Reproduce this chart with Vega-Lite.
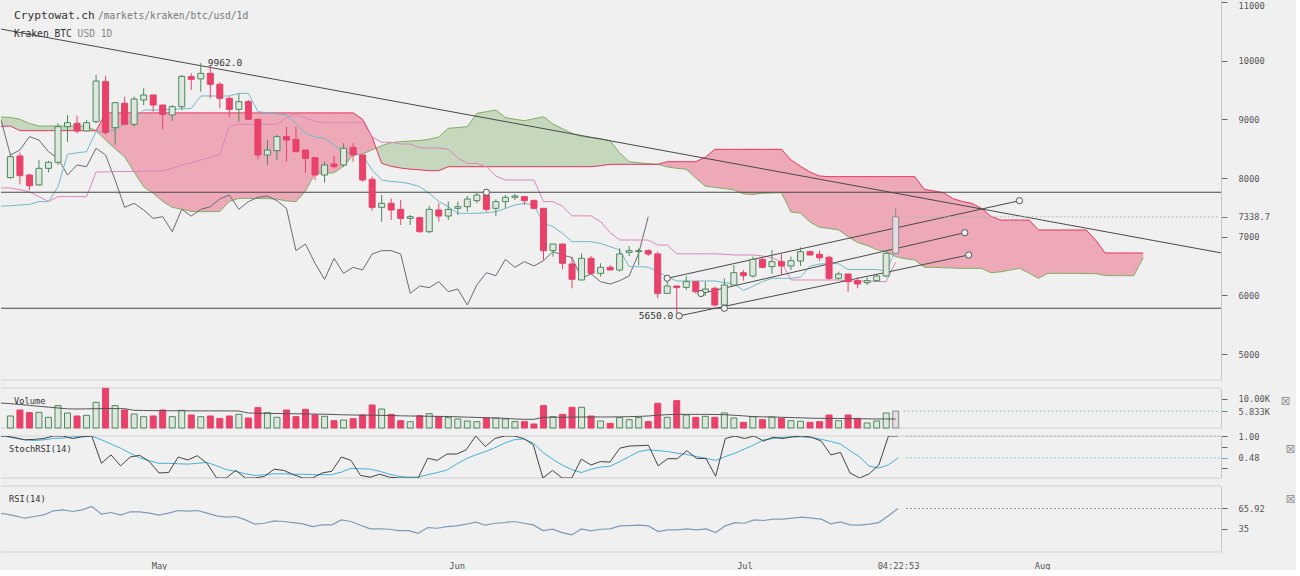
{
"$schema":"https://vega.github.io/schema/vega-lite/v6.json",
"padding":0,
"background":"#f0f0f0",
"bounds":"flush",
"spacing":8,
"config":{"view":{"stroke":null},"axis":{"labelFont":"DejaVu Sans Mono","labelFontSize":8.7,"labelColor":"#555","domainColor":"#c8c8c8","tickColor":"#666","grid":false},"text":{"font":"DejaVu Sans Mono"}},
"datasets":{
"c":[
{"d":"2018-04-14","tk":7520,"kj":7830,"k":1,"dd":0.99,"r":58.8,"vm":8600},
{"d":"2018-04-15","o":8006,"h":8400,"l":7990,"c":8364,"v":4140,"s":"up","tk":7528,"kj":7830,"k":1,"dd":0.99,"r":57.8,"vm":8400},
{"d":"2018-04-16","o":8375,"h":8432,"l":7892,"c":8040,"v":6210,"s":"down","tk":7540,"kj":7800,"k":0.96,"dd":0.95,"r":54.8,"vm":8100},
{"d":"2018-04-17","o":8051,"h":8070,"l":7795,"c":7869,"v":5290,"s":"down","tk":7550,"kj":7767,"k":0.91,"dd":0.91,"r":51.2,"vm":7800},
{"d":"2018-04-18","o":7881,"h":8307,"l":7870,"c":8165,"v":5400,"s":"up","tk":7597,"kj":7680,"k":0.92,"dd":0.89,"r":53.8,"vm":7500},
{"d":"2018-04-19","o":8165,"h":8290,"l":8096,"c":8267,"v":3680,"s":"up","tk":7597,"kj":7600,"k":0.94,"dd":0.91,"r":56.3,"vm":7200},
{"d":"2018-04-20","o":8267,"h":8932,"l":8221,"c":8875,"v":7700,"s":"up","tk":7852,"kj":7682,"k":1,"dd":0.94,"r":62.4,"vm":6900},
{"d":"2018-04-21","o":8875,"h":9074,"l":8619,"c":8943,"v":5175,"s":"up","tk":8403,"kj":7682,"k":1,"dd":0.95,"r":63.9,"vm":6600},
{"d":"2018-04-22","o":8932,"h":9062,"l":8761,"c":8801,"v":4140,"s":"down","tk":8430,"kj":7682,"k":0.94,"dd":0.98,"r":61.4,"vm":6550},
{"d":"2018-04-23","o":8801,"h":8989,"l":8790,"c":8943,"v":4370,"s":"up","tk":8449,"kj":7682,"k":0.98,"dd":0.99,"r":63.9,"vm":6600},
{"d":"2018-04-24","o":8960,"h":9756,"l":8932,"c":9653,"v":8855,"s":"up","tk":8790,"kj":8103,"k":1,"dd":1,"r":69,"vm":6650},
{"d":"2018-04-25","o":9642,"h":9744,"l":8740,"c":8778,"v":13700,"s":"down","tk":8790,"kj":8103,"k":0.35,"dd":0.91,"r":57.3,"vm":6700},
{"d":"2018-04-26","o":8858,"h":9290,"l":8562,"c":9284,"v":7700,"s":"up","tk":8818,"kj":8110,"k":0.55,"dd":0.81,"r":59.8,"vm":6700},
{"d":"2018-04-27","o":9273,"h":9386,"l":8903,"c":8915,"v":6210,"s":"down","tk":8930,"kj":8110,"k":0.29,"dd":0.71,"r":55.8,"vm":6650},
{"d":"2018-04-28","o":8915,"h":9386,"l":8875,"c":9347,"v":4830,"s":"up","tk":8988,"kj":8110,"k":0.5,"dd":0.59,"r":60.9,"vm":6100},
{"d":"2018-04-29","o":9330,"h":9528,"l":9244,"c":9415,"v":3910,"s":"up","tk":9159,"kj":8119,"k":0.54,"dd":0.48,"r":60.9,"vm":6050},
{"d":"2018-04-30","o":9415,"h":9420,"l":9131,"c":9244,"v":4140,"s":"down","tk":9159,"kj":8119,"k":0.39,"dd":0.41,"r":58.8,"vm":6000},
{"d":"2018-05-01","o":9244,"h":9250,"l":8830,"c":9085,"v":6210,"s":"down","tk":9159,"kj":8119,"k":0.12,"dd":0.35,"r":55.8,"vm":5950},
{"d":"2018-05-02","o":9074,"h":9244,"l":8977,"c":9216,"v":3910,"s":"up","tk":9170,"kj":8165,"k":0.13,"dd":0.35,"r":58.8,"vm":5950},
{"d":"2018-05-03","o":9216,"h":9756,"l":9159,"c":9733,"v":6095,"s":"up","tk":9180,"kj":8222,"k":0.5,"dd":0.34,"r":62.9,"vm":5950},
{"d":"2018-05-04","o":9727,"h":9784,"l":9500,"c":9682,"v":4485,"s":"down","tk":9187,"kj":8260,"k":0.43,"dd":0.33,"r":61.9,"vm":5900},
{"d":"2018-05-05","o":9688,"h":9962,"l":9472,"c":9784,"v":3910,"s":"up","tk":9398,"kj":8307,"k":0.53,"dd":0.35,"r":62.9,"vm":5900},
{"d":"2018-05-06","o":9784,"h":9926,"l":9358,"c":9597,"v":4140,"s":"down","tk":9398,"kj":8350,"k":0.35,"dd":0.37,"r":58.8,"vm":5900},
{"d":"2018-05-07","o":9597,"h":9631,"l":9187,"c":9358,"v":3335,"s":"down","tk":9398,"kj":8400,"k":0,"dd":0.29,"r":54.8,"vm":5900},
{"d":"2018-05-08","o":9358,"h":9387,"l":9045,"c":9170,"v":4140,"s":"down","tk":9398,"kj":8880,"k":0,"dd":0.2,"r":52.7,"vm":5880},
{"d":"2018-05-09","o":9170,"h":9443,"l":8960,"c":9301,"v":4715,"s":"up","tk":9443,"kj":8916,"k":0.18,"dd":0.16,"r":53.8,"vm":5860},
{"d":"2018-05-10","o":9301,"h":9330,"l":8989,"c":9000,"v":3450,"s":"down","tk":9443,"kj":8916,"k":0,"dd":0.1,"r":48.7,"vm":5180},
{"d":"2018-05-11","o":9000,"h":9010,"l":8318,"c":8392,"v":7015,"s":"down","tk":9131,"kj":8916,"k":0,"dd":0.06,"r":42.1,"vm":5100},
{"d":"2018-05-12","o":8392,"h":8648,"l":8222,"c":8477,"v":5290,"s":"up","tk":9110,"kj":8916,"k":0.04,"dd":0.08,"r":43.6,"vm":5050},
{"d":"2018-05-13","o":8466,"h":8733,"l":8307,"c":8705,"v":3680,"s":"up","tk":9091,"kj":8916,"k":0.21,"dd":0.1,"r":47.2,"vm":5000},
{"d":"2018-05-14","o":8705,"h":8875,"l":8278,"c":8648,"v":6210,"s":"down","tk":9080,"kj":9029,"k":0.18,"dd":0.1,"r":46.2,"vm":4950},
{"d":"2018-05-15","o":8659,"h":8875,"l":8449,"c":8449,"v":3910,"s":"down","tk":8932,"kj":9092,"k":0.08,"dd":0.09,"r":44.6,"vm":4900},
{"d":"2018-05-16","o":8477,"h":8480,"l":8080,"c":8335,"v":6440,"s":"down","tk":8761,"kj":9021,"k":0,"dd":0.09,"r":42.6,"vm":4850},
{"d":"2018-05-17","o":8347,"h":8350,"l":7966,"c":8051,"v":4485,"s":"down","tk":8700,"kj":8964,"k":0,"dd":0.08,"r":38.5,"vm":4800},
{"d":"2018-05-18","o":8051,"h":8278,"l":7920,"c":8222,"v":4025,"s":"up","tk":8676,"kj":8941,"k":0.12,"dd":0.08,"r":41.1,"vm":4750},
{"d":"2018-05-19","o":8239,"h":8381,"l":8165,"c":8193,"v":2530,"s":"down","tk":8560,"kj":8941,"k":0.16,"dd":0.08,"r":41.1,"vm":4650},
{"d":"2018-05-20","o":8222,"h":8591,"l":8193,"c":8506,"v":2760,"s":"up","tk":8449,"kj":8941,"k":0.5,"dd":0.14,"r":48.7,"vm":4550},
{"d":"2018-05-21","o":8523,"h":8591,"l":8278,"c":8392,"v":3220,"s":"down","tk":8420,"kj":8941,"k":0.42,"dd":0.23,"r":46.2,"vm":4480},
{"d":"2018-05-22","o":8392,"h":8395,"l":7937,"c":7966,"v":4485,"s":"down","tk":8392,"kj":8950,"k":0.06,"dd":0.22,"r":40.6,"vm":4450},
{"d":"2018-05-23","o":7977,"h":8023,"l":7443,"c":7500,"v":7935,"s":"down","tk":8136,"kj":8702,"k":0.02,"dd":0.21,"r":35,"vm":4400},
{"d":"2018-05-24","o":7500,"h":7710,"l":7256,"c":7568,"v":6555,"s":"up","tk":7966,"kj":8609,"k":0.09,"dd":0.16,"r":35,"vm":4350},
{"d":"2018-05-25","o":7568,"h":7653,"l":7284,"c":7455,"v":4715,"s":"down","tk":7940,"kj":8609,"k":0.02,"dd":0.09,"r":34.5,"vm":4300},
{"d":"2018-05-26","o":7466,"h":7625,"l":7199,"c":7312,"v":2530,"s":"down","tk":7930,"kj":8580,"k":0,"dd":0.04,"r":32.5,"vm":4200},
{"d":"2018-05-27","o":7312,"h":7369,"l":7199,"c":7341,"v":2185,"s":"up","tk":7900,"kj":8580,"k":0,"dd":0.02,"r":32.5,"vm":4140},
{"d":"2018-05-28","o":7324,"h":7341,"l":7068,"c":7085,"v":4255,"s":"down","tk":7852,"kj":8515,"k":0,"dd":0.02,"r":28.4,"vm":4100},
{"d":"2018-05-29","o":7085,"h":7523,"l":7057,"c":7466,"v":4945,"s":"up","tk":7739,"kj":8510,"k":0.47,"dd":0.08,"r":37,"vm":4050},
{"d":"2018-05-30","o":7455,"h":7568,"l":7256,"c":7352,"v":3910,"s":"down","tk":7600,"kj":8510,"k":0.42,"dd":0.13,"r":36,"vm":4000},
{"d":"2018-05-31","o":7352,"h":7597,"l":7284,"c":7466,"v":3565,"s":"up","tk":7511,"kj":8491,"k":0.57,"dd":0.19,"r":38.5,"vm":3950},
{"d":"2018-06-01","o":7483,"h":7597,"l":7369,"c":7511,"v":3105,"s":"up","tk":7398,"kj":8344,"k":0.57,"dd":0.33,"r":39.6,"vm":3850},
{"d":"2018-06-02","o":7511,"h":7693,"l":7426,"c":7642,"v":2415,"s":"up","tk":7398,"kj":8250,"k":0.67,"dd":0.46,"r":42.1,"vm":3750},
{"d":"2018-06-03","o":7614,"h":7767,"l":7568,"c":7710,"v":2185,"s":"up","tk":7398,"kj":8250,"k":1,"dd":0.55,"r":45.1,"vm":3650},
{"d":"2018-06-04","o":7710,"h":7750,"l":7426,"c":7466,"v":3450,"s":"down","tk":7410,"kj":8193,"k":0.75,"dd":0.63,"r":40.6,"vm":3550},
{"d":"2018-06-05","o":7483,"h":7636,"l":7352,"c":7597,"v":3450,"s":"up","tk":7426,"kj":8033,"k":0.94,"dd":0.72,"r":43.6,"vm":3450},
{"d":"2018-06-06","o":7597,"h":7710,"l":7483,"c":7671,"v":3105,"s":"up","tk":7480,"kj":7966,"k":1,"dd":0.83,"r":44.6,"vm":3350},
{"d":"2018-06-07","o":7671,"h":7727,"l":7625,"c":7693,"v":2185,"s":"up","tk":7540,"kj":7966,"k":1,"dd":0.91,"r":46.2,"vm":3100},
{"d":"2018-06-08","o":7682,"h":7693,"l":7540,"c":7614,"v":2185,"s":"down","tk":7568,"kj":7966,"k":0.94,"dd":0.93,"r":43.6,"vm":2990},
{"d":"2018-06-09","o":7614,"h":7636,"l":7466,"c":7483,"v":1380,"s":"down","tk":7540,"kj":7966,"k":0.79,"dd":0.83,"r":41.1,"vm":3000},
{"d":"2018-06-10","o":7483,"h":7483,"l":6603,"c":6762,"v":7700,"s":"down","tk":7227,"kj":7597,"k":0,"dd":0.61,"r":32.5,"vm":3680},
{"d":"2018-06-11","o":6762,"h":6875,"l":6659,"c":6875,"v":3910,"s":"up","tk":7171,"kj":7597,"k":0.18,"dd":0.45,"r":34.5,"vm":3700},
{"d":"2018-06-12","o":6875,"h":6875,"l":6443,"c":6546,"v":4715,"s":"down","tk":7057,"kj":7517,"k":0,"dd":0.31,"r":29.4,"vm":3700},
{"d":"2018-06-13","o":6534,"h":6659,"l":6120,"c":6273,"v":7130,"s":"down","tk":6915,"kj":7355,"k":0,"dd":0.2,"r":25.9,"vm":3750},
{"d":"2018-06-14","o":6262,"h":6716,"l":6262,"c":6631,"v":7130,"s":"up","tk":6915,"kj":7355,"k":0.45,"dd":0.13,"r":35,"vm":3800},
{"d":"2018-06-15","o":6631,"h":6671,"l":6364,"c":6375,"v":4140,"s":"down","tk":6915,"kj":7355,"k":0.31,"dd":0.21,"r":32,"vm":3800},
{"d":"2018-06-16","o":6375,"h":6546,"l":6318,"c":6478,"v":2415,"s":"up","tk":6886,"kj":7257,"k":0.39,"dd":0.26,"r":34.5,"vm":3800},
{"d":"2018-06-17","o":6478,"h":6517,"l":6432,"c":6432,"v":1610,"s":"down","tk":6830,"kj":7071,"k":0.38,"dd":0.28,"r":35,"vm":3800},
{"d":"2018-06-18","o":6432,"h":6801,"l":6403,"c":6705,"v":3565,"s":"up","tk":6773,"kj":6943,"k":0.71,"dd":0.39,"r":39.6,"vm":3850},
{"d":"2018-06-19","o":6733,"h":6841,"l":6670,"c":6762,"v":2875,"s":"up","tk":6489,"kj":6943,"k":0.76,"dd":0.51,"r":40.1,"vm":3900},
{"d":"2018-06-20","o":6745,"h":6801,"l":6517,"c":6762,"v":3565,"s":"up","tk":6489,"kj":6943,"k":0.77,"dd":0.63,"r":40.6,"vm":4000},
{"d":"2018-06-21","o":6762,"h":6784,"l":6671,"c":6705,"v":2185,"s":"down","tk":6480,"kj":6943,"k":0.78,"dd":0.67,"r":39.6,"vm":4140},
{"d":"2018-06-22","o":6705,"h":6745,"l":5949,"c":6034,"v":8510,"s":"down","tk":6404,"kj":6858,"k":0.29,"dd":0.65,"r":30.9,"vm":4400},
{"d":"2018-06-23","o":6034,"h":6290,"l":6034,"c":6159,"v":3680,"s":"up","tk":6313,"kj":6858,"k":0.46,"dd":0.63,"r":33.5,"vm":4600},
{"d":"2018-06-24","o":6159,"h":6159,"l":5650,"c":6131,"v":9430,"s":"down","tk":6245,"kj":6708,"k":0.46,"dd":0.59,"r":33.5,"vm":4715},
{"d":"2018-06-25","o":6136,"h":6330,"l":6091,"c":6233,"v":4485,"s":"up","tk":6245,"kj":6708,"k":0.65,"dd":0.56,"r":35,"vm":4700},
{"d":"2018-06-26","o":6233,"h":6233,"l":6034,"c":6063,"v":3680,"s":"down","tk":6245,"kj":6708,"k":0.47,"dd":0.51,"r":33.5,"vm":4700},
{"d":"2018-06-27","o":6051,"h":6233,"l":5989,"c":6108,"v":4025,"s":"up","tk":6245,"kj":6708,"k":0.46,"dd":0.47,"r":35,"vm":4700},
{"d":"2018-06-28","o":6119,"h":6148,"l":5807,"c":5835,"v":3680,"s":"down","tk":6245,"kj":6708,"k":0.04,"dd":0.42,"r":29.4,"vm":4650},
{"d":"2018-06-29","o":5835,"h":6290,"l":5807,"c":6176,"v":5175,"s":"up","tk":6217,"kj":6700,"k":0.94,"dd":0.51,"r":39.6,"vm":4600},
{"d":"2018-06-30","o":6176,"h":6517,"l":6176,"c":6386,"v":3450,"s":"up","tk":6198,"kj":6688,"k":1,"dd":0.59,"r":44.6,"vm":4400},
{"d":"2018-07-01","o":6386,"h":6432,"l":6250,"c":6335,"v":1955,"s":"down","tk":6084,"kj":6688,"k":0.94,"dd":0.69,"r":43.6,"vm":4200},
{"d":"2018-07-02","o":6330,"h":6659,"l":6307,"c":6614,"v":3910,"s":"up","tk":6155,"kj":6688,"k":1,"dd":0.79,"r":48.7,"vm":3910},
{"d":"2018-07-03","o":6614,"h":6631,"l":6460,"c":6477,"v":2875,"s":"down","tk":6233,"kj":6671,"k":0.88,"dd":0.91,"r":47.7,"vm":3850},
{"d":"2018-07-04","o":6489,"h":6773,"l":6364,"c":6574,"v":3795,"s":"up","tk":6290,"kj":6643,"k":0.97,"dd":0.94,"r":49.7,"vm":3800},
{"d":"2018-07-05","o":6574,"h":6705,"l":6347,"c":6500,"v":3335,"s":"down","tk":6290,"kj":6566,"k":0.94,"dd":0.97,"r":49.7,"vm":3700},
{"d":"2018-07-06","o":6500,"h":6659,"l":6432,"c":6591,"v":2530,"s":"up","tk":6290,"kj":6262,"k":0.98,"dd":0.98,"r":51.2,"vm":3600},
{"d":"2018-07-07","o":6585,"h":6818,"l":6500,"c":6744,"v":2300,"s":"up","tk":6312,"kj":6262,"k":1,"dd":0.98,"r":52.7,"vm":3500},
{"d":"2018-07-08","o":6744,"h":6760,"l":6680,"c":6688,"v":1955,"s":"down","tk":6497,"kj":6262,"k":0.97,"dd":0.96,"r":51.2,"vm":3400},
{"d":"2018-07-09","o":6699,"h":6761,"l":6591,"c":6642,"v":2185,"s":"down","tk":6534,"kj":6262,"k":0.88,"dd":0.92,"r":49.7,"vm":3335},
{"d":"2018-07-10","o":6648,"h":6676,"l":6261,"c":6290,"v":4485,"s":"down","tk":6540,"kj":6262,"k":0.55,"dd":0.87,"r":42.6,"vm":3300},
{"d":"2018-07-11","o":6290,"h":6403,"l":6273,"c":6364,"v":2530,"s":"up","tk":6540,"kj":6262,"k":0.61,"dd":0.81,"r":45.6,"vm":3300},
{"d":"2018-07-12","o":6364,"h":6364,"l":6063,"c":6233,"v":4485,"s":"down","tk":6440,"kj":6245,"k":0.12,"dd":0.65,"r":41.1,"vm":3250},
{"d":"2018-07-13","o":6250,"h":6307,"l":6120,"c":6193,"v":3335,"s":"down","tk":6440,"kj":6245,"k":0,"dd":0.5,"r":40.6,"vm":3200},
{"d":"2018-07-14","o":6216,"h":6307,"l":6176,"c":6250,"v":1725,"s":"up","tk":6440,"kj":6245,"k":0.1,"dd":0.28,"r":42.1,"vm":3150},
{"d":"2018-07-15","o":6250,"h":6347,"l":6233,"c":6330,"v":2415,"s":"up","tk":6440,"kj":6234,"k":0.31,"dd":0.24,"r":44.6,"vm":3120},
{"d":"2018-07-16","o":6330,"h":6744,"l":6307,"c":6716,"v":5175,"s":"up","tk":6412,"kj":6234,"k":1,"dd":0.31,"r":54.8,"vm":3110},
{"d":"2018-07-17","o":6716,"h":7483,"l":6716,"c":7338.7,"v":5833,"s":"live","tk":6773,"kj":6566,"k":1,"dd":0.48,"r":65.92,"vm":3105}
],
"lag":[
{"d":"2018-04-14","p":9000},{"d":"2018-04-15","p":8392},{"d":"2018-04-16","p":8477},{"d":"2018-04-17","p":8705},{"d":"2018-04-18","p":8648},{"d":"2018-04-19","p":8449},{"d":"2018-04-20","p":8335},{"d":"2018-04-21","p":8051},{"d":"2018-04-22","p":8222},{"d":"2018-04-23","p":8193},{"d":"2018-04-24","p":8506},{"d":"2018-04-25","p":8392},{"d":"2018-04-26","p":7966},{"d":"2018-04-27","p":7500},{"d":"2018-04-28","p":7568},{"d":"2018-04-29","p":7455},{"d":"2018-04-30","p":7312},{"d":"2018-05-01","p":7341},{"d":"2018-05-02","p":7085},{"d":"2018-05-03","p":7466},{"d":"2018-05-04","p":7352},{"d":"2018-05-05","p":7466},{"d":"2018-05-06","p":7511},{"d":"2018-05-07","p":7642},{"d":"2018-05-08","p":7710},{"d":"2018-05-09","p":7466},{"d":"2018-05-10","p":7597},{"d":"2018-05-11","p":7671},{"d":"2018-05-12","p":7693},{"d":"2018-05-13","p":7614},{"d":"2018-05-14","p":7483},{"d":"2018-05-15","p":6762},{"d":"2018-05-16","p":6875},{"d":"2018-05-17","p":6546},{"d":"2018-05-18","p":6273},{"d":"2018-05-19","p":6631},{"d":"2018-05-20","p":6375},{"d":"2018-05-21","p":6478},{"d":"2018-05-22","p":6432},{"d":"2018-05-23","p":6705},{"d":"2018-05-24","p":6762},{"d":"2018-05-25","p":6762},{"d":"2018-05-26","p":6705},{"d":"2018-05-27","p":6034},{"d":"2018-05-28","p":6159},{"d":"2018-05-29","p":6131},{"d":"2018-05-30","p":6233},{"d":"2018-05-31","p":6063},{"d":"2018-06-01","p":6108},{"d":"2018-06-02","p":5835},{"d":"2018-06-03","p":6176},{"d":"2018-06-04","p":6386},{"d":"2018-06-05","p":6335},{"d":"2018-06-06","p":6614},{"d":"2018-06-07","p":6477},{"d":"2018-06-08","p":6574},{"d":"2018-06-09","p":6500},{"d":"2018-06-10","p":6591},{"d":"2018-06-11","p":6744},{"d":"2018-06-12","p":6688},{"d":"2018-06-13","p":6642},{"d":"2018-06-14","p":6290},{"d":"2018-06-15","p":6364},{"d":"2018-06-16","p":6233},{"d":"2018-06-17","p":6193},{"d":"2018-06-18","p":6250},{"d":"2018-06-19","p":6330},{"d":"2018-06-20","p":6716},{"d":"2018-06-21","p":7338.7}
],
"cl":[
{"d":"2018-04-14","a":9040,"b":8880,"s":"g1","k":"g"},{"d":"2018-04-15","a":9034,"b":8886,"s":"g1","k":"g"},{"d":"2018-04-16","a":9000,"b":8807,"s":"g1","k":"g"},{"d":"2018-04-17","a":8930,"b":8807,"s":"g1","k":"g"},{"d":"2018-04-18","a":8886,"b":8807,"s":"g1","k":"g"},{"d":"2018-04-19","a":8886,"b":8807,"s":"g1","k":"g"},{"d":"2018-04-20","a":8886,"b":8807,"s":"g1","k":"g"},{"d":"2018-04-21","a":8886,"b":8807,"s":"g1","k":"g"},{"d":"2018-04-22","a":8886,"b":8807,"s":"g1","k":"g"},{"d":"2018-04-23","a":8886,"b":8807,"s":"g1","k":"g"},{"d":"2018-04-24","a":8805,"b":8805,"s":"g1","k":"g"},
{"d":"2018-04-24","a":8805,"b":8805,"s":"r1","k":"r"},{"d":"2018-04-25","a":8647,"b":9110,"s":"r1","k":"r"},{"d":"2018-04-26","a":8500,"b":9110,"s":"r1","k":"r"},{"d":"2018-04-27","a":8363,"b":9110,"s":"r1","k":"r"},{"d":"2018-04-28","a":8100,"b":9110,"s":"r1","k":"r"},{"d":"2018-04-29","a":7850,"b":9110,"s":"r1","k":"r"},{"d":"2018-04-30","a":7738,"b":9110,"s":"r1","k":"r"},{"d":"2018-05-01","a":7600,"b":9110,"s":"r1","k":"r"},{"d":"2018-05-02","a":7500,"b":9110,"s":"r1","k":"r"},{"d":"2018-05-03","a":7470,"b":9110,"s":"r1","k":"r"},{"d":"2018-05-04","a":7430,"b":9110,"s":"r1","k":"r"},{"d":"2018-05-05","a":7426,"b":9110,"s":"r1","k":"r"},{"d":"2018-05-06","a":7426,"b":9110,"s":"r1","k":"r"},{"d":"2018-05-07","a":7430,"b":9110,"s":"r1","k":"r"},{"d":"2018-05-08","a":7600,"b":9110,"s":"r1","k":"r"},{"d":"2018-05-09","a":7653,"b":9110,"s":"r1","k":"r"},{"d":"2018-05-10","a":7653,"b":9110,"s":"r1","k":"r"},{"d":"2018-05-11","a":7650,"b":9110,"s":"r1","k":"r"},{"d":"2018-05-12","a":7650,"b":9110,"s":"r1","k":"r"},{"d":"2018-05-13","a":7640,"b":9110,"s":"r1","k":"r"},{"d":"2018-05-14","a":7610,"b":9110,"s":"r1","k":"r"},{"d":"2018-05-15","a":7596,"b":9110,"s":"r1","k":"r"},{"d":"2018-05-16","a":7780,"b":9110,"s":"r1","k":"r"},{"d":"2018-05-17","a":8079,"b":9110,"s":"r1","k":"r"},{"d":"2018-05-18","a":8079,"b":9110,"s":"r1","k":"r"},{"d":"2018-05-19","a":8090,"b":9110,"s":"r1","k":"r"},{"d":"2018-05-20","a":8200,"b":9110,"s":"r1","k":"r"},{"d":"2018-05-21","a":8390,"b":9110,"s":"r1","k":"r"},{"d":"2018-05-22","a":8410,"b":9000,"s":"r1","k":"r"},{"d":"2018-05-23","a":8480,"b":8700,"s":"r1","k":"r"},{"d":"2018-05-23T10:00:00Z","a":8510,"b":8510,"s":"r1","k":"r"},
{"d":"2018-05-23T10:00:00Z","a":8510,"b":8510,"s":"g2","k":"g"},{"d":"2018-05-24","a":8550,"b":8250,"s":"g2","k":"g"},{"d":"2018-05-25","a":8602,"b":8200,"s":"g2","k":"g"},{"d":"2018-05-26","a":8619,"b":8170,"s":"g2","k":"g"},{"d":"2018-05-27","a":8630,"b":8150,"s":"g2","k":"g"},{"d":"2018-05-28","a":8640,"b":8140,"s":"g2","k":"g"},{"d":"2018-05-29","a":8660,"b":8125,"s":"g2","k":"g"},{"d":"2018-05-30","a":8700,"b":8125,"s":"g2","k":"g"},{"d":"2018-05-31","a":8847,"b":8193,"s":"g2","k":"g"},{"d":"2018-06-01","a":8860,"b":8193,"s":"g2","k":"g"},{"d":"2018-06-02","a":8875,"b":8193,"s":"g2","k":"g"},{"d":"2018-06-03","a":9102,"b":8193,"s":"g2","k":"g"},{"d":"2018-06-04","a":9130,"b":8193,"s":"g2","k":"g"},{"d":"2018-06-05","a":9159,"b":8193,"s":"g2","k":"g"},{"d":"2018-06-06","a":9030,"b":8193,"s":"g2","k":"g"},{"d":"2018-06-07","a":9000,"b":8193,"s":"g2","k":"g"},{"d":"2018-06-08","a":8977,"b":8193,"s":"g2","k":"g"},{"d":"2018-06-09","a":9010,"b":8193,"s":"g2","k":"g"},{"d":"2018-06-10","a":9045,"b":8193,"s":"g2","k":"g"},{"d":"2018-06-11","a":8920,"b":8193,"s":"g2","k":"g"},{"d":"2018-06-12","a":8840,"b":8193,"s":"g2","k":"g"},{"d":"2018-06-13","a":8761,"b":8193,"s":"g2","k":"g"},{"d":"2018-06-14","a":8705,"b":8193,"s":"g2","k":"g"},{"d":"2018-06-15","a":8690,"b":8193,"s":"g2","k":"g"},{"d":"2018-06-16","a":8670,"b":8210,"s":"g2","k":"g"},{"d":"2018-06-17","a":8636,"b":8233,"s":"g2","k":"g"},{"d":"2018-06-18","a":8430,"b":8233,"s":"g2","k":"g"},{"d":"2018-06-19","a":8278,"b":8233,"s":"g2","k":"g"},{"d":"2018-06-20","a":8260,"b":8233,"s":"g2","k":"g"},{"d":"2018-06-21","a":8245,"b":8233,"s":"g2","k":"g"},{"d":"2018-06-22","a":8233,"b":8233,"s":"g2","k":"g"},
{"d":"2018-06-22","a":8233,"b":8233,"s":"r2","k":"r"},{"d":"2018-06-23","a":8190,"b":8278,"s":"r2","k":"r"},{"d":"2018-06-24","a":8165,"b":8278,"s":"r2","k":"r"},{"d":"2018-06-25","a":8150,"b":8278,"s":"r2","k":"r"},{"d":"2018-06-26","a":8000,"b":8278,"s":"r2","k":"r"},{"d":"2018-06-27","a":7860,"b":8352,"s":"r2","k":"r"},{"d":"2018-06-28","a":7840,"b":8489,"s":"r2","k":"r"},{"d":"2018-06-29","a":7820,"b":8489,"s":"r2","k":"r"},{"d":"2018-06-30","a":7800,"b":8489,"s":"r2","k":"r"},{"d":"2018-07-01","a":7730,"b":8489,"s":"r2","k":"r"},{"d":"2018-07-02","a":7720,"b":8489,"s":"r2","k":"r"},{"d":"2018-07-03","a":7740,"b":8489,"s":"r2","k":"r"},{"d":"2018-07-04","a":7745,"b":8489,"s":"r2","k":"r"},{"d":"2018-07-05","a":7750,"b":8489,"s":"r2","k":"r"},{"d":"2018-07-06","a":7420,"b":8307,"s":"r2","k":"r"},{"d":"2018-07-07","a":7400,"b":8200,"s":"r2","k":"r"},{"d":"2018-07-08","a":7250,"b":8100,"s":"r2","k":"r"},{"d":"2018-07-09","a":7160,"b":8034,"s":"r2","k":"r"},{"d":"2018-07-10","a":7140,"b":8023,"s":"r2","k":"r"},{"d":"2018-07-11","a":7114,"b":8023,"s":"r2","k":"r"},{"d":"2018-07-12","a":7000,"b":8023,"s":"r2","k":"r"},{"d":"2018-07-13","a":6900,"b":8023,"s":"r2","k":"r"},{"d":"2018-07-14","a":6850,"b":8023,"s":"r2","k":"r"},{"d":"2018-07-15","a":6780,"b":8023,"s":"r2","k":"r"},{"d":"2018-07-16","a":6744,"b":8023,"s":"r2","k":"r"},{"d":"2018-07-17","a":6660,"b":8023,"s":"r2","k":"r"},{"d":"2018-07-18","a":6625,"b":8023,"s":"r2","k":"r"},{"d":"2018-07-19","a":6602,"b":8023,"s":"r2","k":"r"},{"d":"2018-07-20","a":6480,"b":7807,"s":"r2","k":"r"},{"d":"2018-07-21","a":6477,"b":7780,"s":"r2","k":"r"},{"d":"2018-07-22","a":6470,"b":7750,"s":"r2","k":"r"},{"d":"2018-07-23","a":6465,"b":7650,"s":"r2","k":"r"},{"d":"2018-07-24","a":6460,"b":7600,"s":"r2","k":"r"},{"d":"2018-07-25","a":6460,"b":7568,"s":"r2","k":"r"},{"d":"2018-07-26","a":6460,"b":7483,"s":"r2","k":"r"},{"d":"2018-07-27","a":6386,"b":7350,"s":"r2","k":"r"},{"d":"2018-07-28","a":6400,"b":7284,"s":"r2","k":"r"},{"d":"2018-07-29","a":6430,"b":7284,"s":"r2","k":"r"},{"d":"2018-07-30","a":6460,"b":7284,"s":"r2","k":"r"},{"d":"2018-07-31","a":6380,"b":7284,"s":"r2","k":"r"},{"d":"2018-08-01","a":6290,"b":7114,"s":"r2","k":"r"},{"d":"2018-08-02","a":6375,"b":7114,"s":"r2","k":"r"},{"d":"2018-08-03","a":6375,"b":7114,"s":"r2","k":"r"},{"d":"2018-08-04","a":6375,"b":7114,"s":"r2","k":"r"},{"d":"2018-08-05","a":6375,"b":7114,"s":"r2","k":"r"},{"d":"2018-08-06","a":6370,"b":7114,"s":"r2","k":"r"},{"d":"2018-08-07","a":6370,"b":6943,"s":"r2","k":"r"},{"d":"2018-08-08","a":6340,"b":6722,"s":"r2","k":"r"},{"d":"2018-08-09","a":6335,"b":6722,"s":"r2","k":"r"},{"d":"2018-08-10","a":6335,"b":6722,"s":"r2","k":"r"},{"d":"2018-08-11","a":6335,"b":6722,"s":"r2","k":"r"},{"d":"2018-08-12","a":6640,"b":6722,"s":"r2","k":"r"}
],
"tl":[
{"id":"t1","d":"2018-04-10","p":10658},{"id":"t1","d":"2018-08-25","p":6580},
{"id":"c1","d":"2018-06-23","p":6291},{"id":"c1","d":"2018-07-30","p":7613},
{"id":"c2","d":"2018-06-26T13:00:00Z","p":6032},{"id":"c2","d":"2018-07-24T06:00:00Z","p":7068},
{"id":"c3","d":"2018-06-24T06:00:00Z","p":5650},{"id":"c3","d":"2018-07-24T16:00:00Z","p":6688}
],
"pt":[
{"d":"2018-06-23","p":6291},{"d":"2018-07-30","p":7613},{"d":"2018-06-26T13:00:00Z","p":6032},{"d":"2018-07-24T06:00:00Z","p":7068},{"d":"2018-06-24T06:00:00Z","p":5650},{"d":"2018-07-24T16:00:00Z","p":6688},{"d":"2018-06-29","p":5779},{"d":"2018-06-04","p":7757}
]
},
"vconcat":[
{
"width":1220,"height":380,
"layer":[
{"data":{"name":"cl"},"mark":{"type":"area","interpolate":"linear","clip":true},
 "encoding":{"x":{"field":"d","type":"temporal","scale":{"type":"utc","domain":[1523710500000,1534692780000],"nice":false},"axis":null},
  "y":{"field":"a","type":"quantitative","scale":{"domain":[4557,11034],"nice":false,"zero":false},"axis":{"orient":"right","title":null,"values":[5000,6000,7000,7338.7,8000,9000,10000,11000],"format":".1~f","tickSize":6,"labelPadding":11,"labelOverlap":false,"labelBaseline":{"condition":{"test":"datum.value == 11000","value":"top"},"value":"middle"},"tickColor":{"condition":{"test":"datum.value == 7338.7","value":"#4f9a6a"},"value":"#666"}}},
  "y2":{"field":"b"},"detail":{"field":"s"},
  "color":{"field":"k","type":"nominal","scale":{"domain":["g","r"],"range":["#c5d8be","#eda9b7"]},"legend":null}}},
{"data":{"name":"cl"},"mark":{"type":"line","color":"#7fae62","strokeWidth":1,"clip":true},
 "encoding":{"x":{"field":"d","type":"temporal","scale":{"type":"utc","domain":[1523710500000,1534692780000],"nice":false},"axis":null},
  "y":{"field":"a","type":"quantitative","scale":{"domain":[4557,11034],"nice":false,"zero":false},"axis":{"orient":"right","title":null,"values":[5000,6000,7000,7338.7,8000,9000,10000,11000],"format":".1~f","tickSize":6,"labelPadding":11,"labelOverlap":false,"labelBaseline":{"condition":{"test":"datum.value == 11000","value":"top"},"value":"middle"},"tickColor":{"condition":{"test":"datum.value == 7338.7","value":"#4f9a6a"},"value":"#666"}}},"detail":{"field":"s"}}},
{"data":{"name":"cl"},"mark":{"type":"line","color":"#e8345c","strokeWidth":1,"clip":true},
 "encoding":{"x":{"field":"d","type":"temporal","scale":{"type":"utc","domain":[1523710500000,1534692780000],"nice":false},"axis":null},
  "y":{"field":"b","type":"quantitative","scale":{"domain":[4557,11034],"nice":false,"zero":false},"axis":{"orient":"right","title":null,"values":[5000,6000,7000,7338.7,8000,9000,10000,11000],"format":".1~f","tickSize":6,"labelPadding":11,"labelOverlap":false,"labelBaseline":{"condition":{"test":"datum.value == 11000","value":"top"},"value":"middle"},"tickColor":{"condition":{"test":"datum.value == 7338.7","value":"#4f9a6a"},"value":"#666"}}},"detail":{"field":"s"}}},
{"data":{"name":"lag"},"mark":{"type":"line","color":"#6a6a74","strokeWidth":1,"clip":true},
 "encoding":{"x":{"field":"d","type":"temporal","scale":{"type":"utc","domain":[1523710500000,1534692780000],"nice":false},"axis":null},
  "y":{"field":"p","type":"quantitative","scale":{"domain":[4557,11034],"nice":false,"zero":false},"axis":{"orient":"right","title":null,"values":[5000,6000,7000,7338.7,8000,9000,10000,11000],"format":".1~f","tickSize":6,"labelPadding":11,"labelOverlap":false,"labelBaseline":{"condition":{"test":"datum.value == 11000","value":"top"},"value":"middle"},"tickColor":{"condition":{"test":"datum.value == 7338.7","value":"#4f9a6a"},"value":"#666"}}}}},
{"data":{"name":"c"},"mark":{"type":"line","color":"#dd86bd","strokeWidth":1,"clip":true},
 "encoding":{"x":{"field":"d","type":"temporal","scale":{"type":"utc","domain":[1523710500000,1534692780000],"nice":false},"axis":null},
  "y":{"field":"kj","type":"quantitative","scale":{"domain":[4557,11034],"nice":false,"zero":false},"axis":{"orient":"right","title":null,"values":[5000,6000,7000,7338.7,8000,9000,10000,11000],"format":".1~f","tickSize":6,"labelPadding":11,"labelOverlap":false,"labelBaseline":{"condition":{"test":"datum.value == 11000","value":"top"},"value":"middle"},"tickColor":{"condition":{"test":"datum.value == 7338.7","value":"#4f9a6a"},"value":"#666"}}}}},
{"data":{"name":"c"},"mark":{"type":"line","color":"#72b9cb","strokeWidth":1,"clip":true},
 "encoding":{"x":{"field":"d","type":"temporal","scale":{"type":"utc","domain":[1523710500000,1534692780000],"nice":false},"axis":null},
  "y":{"field":"tk","type":"quantitative","scale":{"domain":[4557,11034],"nice":false,"zero":false},"axis":{"orient":"right","title":null,"values":[5000,6000,7000,7338.7,8000,9000,10000,11000],"format":".1~f","tickSize":6,"labelPadding":11,"labelOverlap":false,"labelBaseline":{"condition":{"test":"datum.value == 11000","value":"top"},"value":"middle"},"tickColor":{"condition":{"test":"datum.value == 7338.7","value":"#4f9a6a"},"value":"#666"}}}}},
{"data":{"values":[{}]},"mark":{"type":"rule","color":"#4a4a4a","strokeWidth":1},
 "encoding":{"y":{"datum":7757,"type":"quantitative","scale":{"domain":[4557,11034],"nice":false,"zero":false},"axis":{"orient":"right","title":null,"values":[5000,6000,7000,7338.7,8000,9000,10000,11000],"format":".1~f","tickSize":6,"labelPadding":11,"labelOverlap":false,"labelBaseline":{"condition":{"test":"datum.value == 11000","value":"top"},"value":"middle"},"tickColor":{"condition":{"test":"datum.value == 7338.7","value":"#4f9a6a"},"value":"#666"}}}}},
{"data":{"values":[{}]},"mark":{"type":"rule","color":"#4a4a4a","strokeWidth":1},
 "encoding":{"y":{"datum":5780,"type":"quantitative","scale":{"domain":[4557,11034],"nice":false,"zero":false},"axis":{"orient":"right","title":null,"values":[5000,6000,7000,7338.7,8000,9000,10000,11000],"format":".1~f","tickSize":6,"labelPadding":11,"labelOverlap":false,"labelBaseline":{"condition":{"test":"datum.value == 11000","value":"top"},"value":"middle"},"tickColor":{"condition":{"test":"datum.value == 7338.7","value":"#4f9a6a"},"value":"#666"}}}}},
{"data":{"values":[{}]},"mark":{"type":"rule","color":"#d2d2d2","strokeWidth":1},
 "encoding":{"y":{"datum":4557,"type":"quantitative","scale":{"domain":[4557,11034],"nice":false,"zero":false},"axis":{"orient":"right","title":null,"values":[5000,6000,7000,7338.7,8000,9000,10000,11000],"format":".1~f","tickSize":6,"labelPadding":11,"labelOverlap":false,"labelBaseline":{"condition":{"test":"datum.value == 11000","value":"top"},"value":"middle"},"tickColor":{"condition":{"test":"datum.value == 7338.7","value":"#4f9a6a"},"value":"#666"}}}}},
{"data":{"name":"tl"},"mark":{"type":"line","color":"#4a4a4a","strokeWidth":1,"clip":true},
 "encoding":{"x":{"field":"d","type":"temporal","scale":{"type":"utc","domain":[1523710500000,1534692780000],"nice":false},"axis":null},
  "y":{"field":"p","type":"quantitative","scale":{"domain":[4557,11034],"nice":false,"zero":false},"axis":{"orient":"right","title":null,"values":[5000,6000,7000,7338.7,8000,9000,10000,11000],"format":".1~f","tickSize":6,"labelPadding":11,"labelOverlap":false,"labelBaseline":{"condition":{"test":"datum.value == 11000","value":"top"},"value":"middle"},"tickColor":{"condition":{"test":"datum.value == 7338.7","value":"#4f9a6a"},"value":"#666"}}},"detail":{"field":"id"}}},
{"data":{"name":"c"},"mark":{"type":"rule","strokeWidth":1},
 "encoding":{"x":{"field":"d","type":"temporal","scale":{"type":"utc","domain":[1523710500000,1534692780000],"nice":false},"axis":null},
  "y":{"field":"l","type":"quantitative","scale":{"domain":[4557,11034],"nice":false,"zero":false},"axis":{"orient":"right","title":null,"values":[5000,6000,7000,7338.7,8000,9000,10000,11000],"format":".1~f","tickSize":6,"labelPadding":11,"labelOverlap":false,"labelBaseline":{"condition":{"test":"datum.value == 11000","value":"top"},"value":"middle"},"tickColor":{"condition":{"test":"datum.value == 7338.7","value":"#4f9a6a"},"value":"#666"}}},"y2":{"field":"h"},
  "stroke":{"field":"s","type":"nominal","scale":{"domain":["up","down","live"],"range":["#4a8a5a","#e8416a","#8a8a8a"]},"legend":null}}},
{"data":{"name":"c"},"mark":{"type":"bar","width":6,"strokeWidth":1},
 "encoding":{"x":{"field":"d","type":"temporal","scale":{"type":"utc","domain":[1523710500000,1534692780000],"nice":false},"axis":null},
  "y":{"field":"o","type":"quantitative","scale":{"domain":[4557,11034],"nice":false,"zero":false},"axis":{"orient":"right","title":null,"values":[5000,6000,7000,7338.7,8000,9000,10000,11000],"format":".1~f","tickSize":6,"labelPadding":11,"labelOverlap":false,"labelBaseline":{"condition":{"test":"datum.value == 11000","value":"top"},"value":"middle"},"tickColor":{"condition":{"test":"datum.value == 7338.7","value":"#4f9a6a"},"value":"#666"}}},"y2":{"field":"c"},
  "fill":{"field":"s","type":"nominal","scale":{"domain":["up","down","live"],"range":["#dfe6df","#e8416a","#e4dde0"]},"legend":null},
  "stroke":{"field":"s","type":"nominal","scale":{"domain":["up","down","live"],"range":["#4a8a5a","#e8416a","#8a8a8a"]},"legend":null}}},
{"data":{"values":[{}]},"mark":{"type":"rule","color":"#a3bfae","strokeWidth":1,"strokeDash":[2,2],"clip":true},
 "encoding":{"x":{"datum":{"year":2018,"month":7,"date":17,"hours":20,"utc":true},"type":"temporal","scale":{"type":"utc","domain":[1523710500000,1534692780000],"nice":false},"axis":null},
  "x2":{"datum":{"year":2018,"month":8,"date":20,"utc":true}},
  "y":{"datum":7338.7,"type":"quantitative","scale":{"domain":[4557,11034],"nice":false,"zero":false},"axis":{"orient":"right","title":null,"values":[5000,6000,7000,7338.7,8000,9000,10000,11000],"format":".1~f","tickSize":6,"labelPadding":11,"labelOverlap":false,"labelBaseline":{"condition":{"test":"datum.value == 11000","value":"top"},"value":"middle"},"tickColor":{"condition":{"test":"datum.value == 7338.7","value":"#4f9a6a"},"value":"#666"}}}}},
{"data":{"name":"pt"},"mark":{"type":"point","filled":true,"fill":"#f0f0f0","stroke":"#555","strokeWidth":1,"size":40,"opacity":1},
 "encoding":{"x":{"field":"d","type":"temporal","scale":{"type":"utc","domain":[1523710500000,1534692780000],"nice":false},"axis":null},
  "y":{"field":"p","type":"quantitative","scale":{"domain":[4557,11034],"nice":false,"zero":false},"axis":{"orient":"right","title":null,"values":[5000,6000,7000,7338.7,8000,9000,10000,11000],"format":".1~f","tickSize":6,"labelPadding":11,"labelOverlap":false,"labelBaseline":{"condition":{"test":"datum.value == 11000","value":"top"},"value":"middle"},"tickColor":{"condition":{"test":"datum.value == 7338.7","value":"#4f9a6a"},"value":"#666"}}}}},
{"data":{"values":[{}]},"mark":{"type":"text","text":"9962.0","align":"left","baseline":"middle","dx":7,"fontSize":9.5,"color":"#333"},
 "encoding":{"x":{"datum":{"year":2018,"month":5,"date":5,"utc":true},"type":"temporal","scale":{"type":"utc","domain":[1523710500000,1534692780000],"nice":false},"axis":null},
  "y":{"datum":9962,"type":"quantitative","scale":{"domain":[4557,11034],"nice":false,"zero":false},"axis":{"orient":"right","title":null,"values":[5000,6000,7000,7338.7,8000,9000,10000,11000],"format":".1~f","tickSize":6,"labelPadding":11,"labelOverlap":false,"labelBaseline":{"condition":{"test":"datum.value == 11000","value":"top"},"value":"middle"},"tickColor":{"condition":{"test":"datum.value == 7338.7","value":"#4f9a6a"},"value":"#666"}}}}},
{"data":{"values":[{}]},"mark":{"type":"text","text":"5650.0","align":"right","baseline":"middle","dx":-6,"fontSize":9.5,"color":"#333"},
 "encoding":{"x":{"datum":{"year":2018,"month":6,"date":24,"hours":6,"utc":true},"type":"temporal","scale":{"type":"utc","domain":[1523710500000,1534692780000],"nice":false},"axis":null},
  "y":{"datum":5650,"type":"quantitative","scale":{"domain":[4557,11034],"nice":false,"zero":false},"axis":{"orient":"right","title":null,"values":[5000,6000,7000,7338.7,8000,9000,10000,11000],"format":".1~f","tickSize":6,"labelPadding":11,"labelOverlap":false,"labelBaseline":{"condition":{"test":"datum.value == 11000","value":"top"},"value":"middle"},"tickColor":{"condition":{"test":"datum.value == 7338.7","value":"#4f9a6a"},"value":"#666"}}}}},
{"data":{"values":[{}]},"mark":{"type":"text","text":"Cryptowat.ch","align":"left","baseline":"middle","dx":8,"fontSize":11.2,"color":"#333"},
 "encoding":{"x":{"datum":1523710500000,"type":"temporal","scale":{"type":"utc","domain":[1523710500000,1534692780000],"nice":false},"axis":null},
  "y":{"datum":10761,"type":"quantitative","scale":{"domain":[4557,11034],"nice":false,"zero":false},"axis":{"orient":"right","title":null,"values":[5000,6000,7000,7338.7,8000,9000,10000,11000],"format":".1~f","tickSize":6,"labelPadding":11,"labelOverlap":false,"labelBaseline":{"condition":{"test":"datum.value == 11000","value":"top"},"value":"middle"},"tickColor":{"condition":{"test":"datum.value == 7338.7","value":"#4f9a6a"},"value":"#666"}}}}},
{"data":{"values":[{}]},"mark":{"type":"text","text":"/markets/kraken/btc/usd/1d","align":"left","baseline":"middle","dx":92,"fontSize":9.6,"color":"#777"},
 "encoding":{"x":{"datum":1523710500000,"type":"temporal","scale":{"type":"utc","domain":[1523710500000,1534692780000],"nice":false},"axis":null},
  "y":{"datum":10761,"type":"quantitative","scale":{"domain":[4557,11034],"nice":false,"zero":false},"axis":{"orient":"right","title":null,"values":[5000,6000,7000,7338.7,8000,9000,10000,11000],"format":".1~f","tickSize":6,"labelPadding":11,"labelOverlap":false,"labelBaseline":{"condition":{"test":"datum.value == 11000","value":"top"},"value":"middle"},"tickColor":{"condition":{"test":"datum.value == 7338.7","value":"#4f9a6a"},"value":"#666"}}}}},
{"data":{"values":[{}]},"mark":{"type":"text","text":"Kraken BTC","align":"left","baseline":"middle","dx":8,"fontSize":9.6,"color":"#333"},
 "encoding":{"x":{"datum":1523710500000,"type":"temporal","scale":{"type":"utc","domain":[1523710500000,1534692780000],"nice":false},"axis":null},
  "y":{"datum":10454,"type":"quantitative","scale":{"domain":[4557,11034],"nice":false,"zero":false},"axis":{"orient":"right","title":null,"values":[5000,6000,7000,7338.7,8000,9000,10000,11000],"format":".1~f","tickSize":6,"labelPadding":11,"labelOverlap":false,"labelBaseline":{"condition":{"test":"datum.value == 11000","value":"top"},"value":"middle"},"tickColor":{"condition":{"test":"datum.value == 7338.7","value":"#4f9a6a"},"value":"#666"}}}}},
{"data":{"values":[{}]},"mark":{"type":"text","text":"USD 1D","align":"left","baseline":"middle","dx":71.6,"fontSize":9.6,"color":"#888"},
 "encoding":{"x":{"datum":1523710500000,"type":"temporal","scale":{"type":"utc","domain":[1523710500000,1534692780000],"nice":false},"axis":null},
  "y":{"datum":10454,"type":"quantitative","scale":{"domain":[4557,11034],"nice":false,"zero":false},"axis":{"orient":"right","title":null,"values":[5000,6000,7000,7338.7,8000,9000,10000,11000],"format":".1~f","tickSize":6,"labelPadding":11,"labelOverlap":false,"labelBaseline":{"condition":{"test":"datum.value == 11000","value":"top"},"value":"middle"},"tickColor":{"condition":{"test":"datum.value == 7338.7","value":"#4f9a6a"},"value":"#666"}}}}}
]
},
{
"width":1220,"height":40,
"layer":[
{"data":{"values":[{}]},"mark":{"type":"rule","color":"#d2d2d2","strokeWidth":1},
 "encoding":{"y":{"datum":13793,"type":"quantitative","scale":{"domain":[0,13793],"nice":false},"axis":{"orient":"right","title":null,"values":[10000,5833],"labelExpr":"datum.value == 10000 ? '10.00K' : '5.833K'","tickSize":6,"labelPadding":11,"labelOverlap":false,"tickColor":{"condition":{"test":"datum.value == 5833","value":"#4f9a6a"},"value":"#666"}}}}},
{"data":{"values":[{}]},"mark":{"type":"rule","color":"#d2d2d2","strokeWidth":1},
 "encoding":{"y":{"datum":0,"type":"quantitative","scale":{"domain":[0,13793],"nice":false},"axis":{"orient":"right","title":null,"values":[10000,5833],"labelExpr":"datum.value == 10000 ? '10.00K' : '5.833K'","tickSize":6,"labelPadding":11,"labelOverlap":false,"tickColor":{"condition":{"test":"datum.value == 5833","value":"#4f9a6a"},"value":"#666"}}}}},
{"data":{"name":"c"},"mark":{"type":"bar","width":6,"strokeWidth":1},
 "encoding":{"x":{"field":"d","type":"temporal","scale":{"type":"utc","domain":[1523710500000,1534692780000],"nice":false},"axis":null},
  "y":{"field":"v","type":"quantitative","scale":{"domain":[0,13793],"nice":false},"axis":{"orient":"right","title":null,"values":[10000,5833],"labelExpr":"datum.value == 10000 ? '10.00K' : '5.833K'","tickSize":6,"labelPadding":11,"labelOverlap":false,"tickColor":{"condition":{"test":"datum.value == 5833","value":"#4f9a6a"},"value":"#666"}}},
  "fill":{"field":"s","type":"nominal","scale":{"domain":["up","down","live"],"range":["#dfe6df","#e8416a","#e4dde0"]},"legend":null},
  "stroke":{"field":"s","type":"nominal","scale":{"domain":["up","down","live"],"range":["#4a8a5a","#e8416a","#8a8a8a"]},"legend":null}}},
{"data":{"name":"c"},"mark":{"type":"line","color":"#555","strokeWidth":1,"clip":true},
 "encoding":{"x":{"field":"d","type":"temporal","scale":{"type":"utc","domain":[1523710500000,1534692780000],"nice":false},"axis":null},
  "y":{"field":"vm","type":"quantitative","scale":{"domain":[0,13793],"nice":false},"axis":{"orient":"right","title":null,"values":[10000,5833],"labelExpr":"datum.value == 10000 ? '10.00K' : '5.833K'","tickSize":6,"labelPadding":11,"labelOverlap":false,"tickColor":{"condition":{"test":"datum.value == 5833","value":"#4f9a6a"},"value":"#666"}}}}},
{"data":{"values":[{}]},"mark":{"type":"rule","color":"#8fc0a0","strokeWidth":1,"strokeDash":[2,2],"clip":true},
 "encoding":{"x":{"datum":{"year":2018,"month":7,"date":17,"hours":20,"utc":true},"type":"temporal","scale":{"type":"utc","domain":[1523710500000,1534692780000],"nice":false},"axis":null},
  "x2":{"datum":{"year":2018,"month":8,"date":20,"utc":true}},
  "y":{"datum":5833,"type":"quantitative","scale":{"domain":[0,13793],"nice":false},"axis":{"orient":"right","title":null,"values":[10000,5833],"labelExpr":"datum.value == 10000 ? '10.00K' : '5.833K'","tickSize":6,"labelPadding":11,"labelOverlap":false,"tickColor":{"condition":{"test":"datum.value == 5833","value":"#4f9a6a"},"value":"#666"}}}}},
{"data":{"values":[{}]},"mark":{"type":"text","text":"Volume","align":"left","baseline":"middle","dx":8,"fontSize":8.7,"color":"#333"},
 "encoding":{"x":{"datum":1523710500000,"type":"temporal","scale":{"type":"utc","domain":[1523710500000,1534692780000],"nice":false},"axis":null},
  "y":{"datum":9414,"type":"quantitative","scale":{"domain":[0,13793],"nice":false},"axis":{"orient":"right","title":null,"values":[10000,5833],"labelExpr":"datum.value == 10000 ? '10.00K' : '5.833K'","tickSize":6,"labelPadding":11,"labelOverlap":false,"tickColor":{"condition":{"test":"datum.value == 5833","value":"#4f9a6a"},"value":"#666"}}}}},
{"data":{"values":[{}]},"mark":{"type":"text","text":"⊠","align":"center","baseline":"middle","dx":69.5,"fontSize":12,"font":"DejaVu Sans","color":"#999"},
 "encoding":{"x":{"datum":1534692780000,"type":"temporal","scale":{"type":"utc","domain":[1523710500000,1534692780000],"nice":false},"axis":null},
  "y":{"datum":9200,"type":"quantitative","scale":{"domain":[0,13793],"nice":false},"axis":{"orient":"right","title":null,"values":[10000,5833],"labelExpr":"datum.value == 10000 ? '10.00K' : '5.833K'","tickSize":6,"labelPadding":11,"labelOverlap":false,"tickColor":{"condition":{"test":"datum.value == 5833","value":"#4f9a6a"},"value":"#666"}}}}}
]
},
{
"width":1220,"height":42,
"layer":[
{"data":{"values":[{}]},"mark":{"type":"rule","color":"#d2d2d2","strokeWidth":1},
 "encoding":{"y":{"datum":1,"type":"quantitative","scale":{"domain":[0,1],"nice":false},"axis":{"orient":"right","title":null,"values":[1,0.75,0.48,0.25],"labelExpr":"datum.value == 1 ? '1.00' : (datum.value == 0.48 ? '0.48' : '')","tickSize":6,"labelPadding":11,"labelOverlap":false,"tickColor":{"condition":{"test":"datum.value == 0.48","value":"#45b0d8"},"value":"#666"}}}}},
{"data":{"values":[{}]},"mark":{"type":"rule","color":"#d2d2d2","strokeWidth":1},
 "encoding":{"y":{"datum":0,"type":"quantitative","scale":{"domain":[0,1],"nice":false},"axis":{"orient":"right","title":null,"values":[1,0.75,0.48,0.25],"labelExpr":"datum.value == 1 ? '1.00' : (datum.value == 0.48 ? '0.48' : '')","tickSize":6,"labelPadding":11,"labelOverlap":false,"tickColor":{"condition":{"test":"datum.value == 0.48","value":"#45b0d8"},"value":"#666"}}}}},
{"data":{"name":"c"},"mark":{"type":"line","color":"#45b0d8","strokeWidth":1,"clip":true},
 "encoding":{"x":{"field":"d","type":"temporal","scale":{"type":"utc","domain":[1523710500000,1534692780000],"nice":false},"axis":null},
  "y":{"field":"dd","type":"quantitative","scale":{"domain":[0,1],"nice":false},"axis":{"orient":"right","title":null,"values":[1,0.75,0.48,0.25],"labelExpr":"datum.value == 1 ? '1.00' : (datum.value == 0.48 ? '0.48' : '')","tickSize":6,"labelPadding":11,"labelOverlap":false,"tickColor":{"condition":{"test":"datum.value == 0.48","value":"#45b0d8"},"value":"#666"}}}}},
{"data":{"name":"c"},"mark":{"type":"line","color":"#444","strokeWidth":1,"clip":true},
 "encoding":{"x":{"field":"d","type":"temporal","scale":{"type":"utc","domain":[1523710500000,1534692780000],"nice":false},"axis":null},
  "y":{"field":"k","type":"quantitative","scale":{"domain":[0,1],"nice":false},"axis":{"orient":"right","title":null,"values":[1,0.75,0.48,0.25],"labelExpr":"datum.value == 1 ? '1.00' : (datum.value == 0.48 ? '0.48' : '')","tickSize":6,"labelPadding":11,"labelOverlap":false,"tickColor":{"condition":{"test":"datum.value == 0.48","value":"#45b0d8"},"value":"#666"}}}}},
{"data":{"values":[{}]},"mark":{"type":"rule","color":"#999","strokeWidth":1,"strokeDash":[2,2],"clip":true},
 "encoding":{"x":{"datum":{"year":2018,"month":7,"date":17,"hours":20,"utc":true},"type":"temporal","scale":{"type":"utc","domain":[1523710500000,1534692780000],"nice":false},"axis":null},
  "x2":{"datum":{"year":2018,"month":8,"date":20,"utc":true}},
  "y":{"datum":1,"type":"quantitative","scale":{"domain":[0,1],"nice":false},"axis":{"orient":"right","title":null,"values":[1,0.75,0.48,0.25],"labelExpr":"datum.value == 1 ? '1.00' : (datum.value == 0.48 ? '0.48' : '')","tickSize":6,"labelPadding":11,"labelOverlap":false,"tickColor":{"condition":{"test":"datum.value == 0.48","value":"#45b0d8"},"value":"#666"}}}}},
{"data":{"values":[{}]},"mark":{"type":"rule","color":"#80cce6","strokeWidth":1,"strokeDash":[2,2],"clip":true},
 "encoding":{"x":{"datum":{"year":2018,"month":7,"date":17,"hours":20,"utc":true},"type":"temporal","scale":{"type":"utc","domain":[1523710500000,1534692780000],"nice":false},"axis":null},
  "x2":{"datum":{"year":2018,"month":8,"date":20,"utc":true}},
  "y":{"datum":0.48,"type":"quantitative","scale":{"domain":[0,1],"nice":false},"axis":{"orient":"right","title":null,"values":[1,0.75,0.48,0.25],"labelExpr":"datum.value == 1 ? '1.00' : (datum.value == 0.48 ? '0.48' : '')","tickSize":6,"labelPadding":11,"labelOverlap":false,"tickColor":{"condition":{"test":"datum.value == 0.48","value":"#45b0d8"},"value":"#666"}}}}},
{"data":{"values":[{}]},"mark":{"type":"text","text":"StochRSI(14)","align":"left","baseline":"middle","dx":8,"fontSize":8.7,"color":"#333"},
 "encoding":{"x":{"datum":1523710500000,"type":"temporal","scale":{"type":"utc","domain":[1523710500000,1534692780000],"nice":false},"axis":null},
  "y":{"datum":0.69,"type":"quantitative","scale":{"domain":[0,1],"nice":false},"axis":{"orient":"right","title":null,"values":[1,0.75,0.48,0.25],"labelExpr":"datum.value == 1 ? '1.00' : (datum.value == 0.48 ? '0.48' : '')","tickSize":6,"labelPadding":11,"labelOverlap":false,"tickColor":{"condition":{"test":"datum.value == 0.48","value":"#45b0d8"},"value":"#666"}}}}},
{"data":{"values":[{}]},"mark":{"type":"text","text":"⊠","align":"center","baseline":"middle","dx":69.5,"fontSize":12,"font":"DejaVu Sans","color":"#999"},
 "encoding":{"x":{"datum":1534692780000,"type":"temporal","scale":{"type":"utc","domain":[1523710500000,1534692780000],"nice":false},"axis":null},
  "y":{"datum":0.7,"type":"quantitative","scale":{"domain":[0,1],"nice":false},"axis":{"orient":"right","title":null,"values":[1,0.75,0.48,0.25],"labelExpr":"datum.value == 1 ? '1.00' : (datum.value == 0.48 ? '0.48' : '')","tickSize":6,"labelPadding":11,"labelOverlap":false,"tickColor":{"condition":{"test":"datum.value == 0.48","value":"#45b0d8"},"value":"#666"}}}}}
]
},
{
"width":1220,"height":66,
"layer":[
{"data":{"values":[{}]},"mark":{"type":"rule","color":"#d2d2d2","strokeWidth":1},
 "encoding":{"y":{"datum":100,"type":"quantitative","scale":{"domain":[0,100],"nice":false},"axis":{"orient":"right","title":null,"values":[65.92,35],"format":".4~r","tickSize":6,"labelPadding":11,"labelOverlap":false}}}},
{"data":{"values":[{}]},"mark":{"type":"rule","color":"#d2d2d2","strokeWidth":1},
 "encoding":{"y":{"datum":0,"type":"quantitative","scale":{"domain":[0,100],"nice":false},"axis":{"orient":"right","title":null,"values":[65.92,35],"format":".4~r","tickSize":6,"labelPadding":11,"labelOverlap":false}}}},
{"data":{"name":"c"},"mark":{"type":"line","color":"#7d9bb8","strokeWidth":1.2,"clip":true},
 "encoding":{"x":{"field":"d","type":"temporal","scale":{"type":"utc","domain":[1523710500000,1534692780000],"nice":false},"axis":{"orient":"bottom","title":null,"values":[{"year":2018,"month":5,"date":1,"utc":true},{"year":2018,"month":6,"date":1,"utc":true},{"year":2018,"month":7,"date":1,"utc":true},{"year":2018,"month":7,"date":17,"utc":true},{"year":2018,"month":8,"date":1,"utc":true}],"labelExpr":"utcdate(datum.value) == 17 ? '04:22:53' : utcFormat(datum.value, '%b')","ticks":false,"domain":false,"labelPadding":9,"labelFlush":false,"labelOverlap":false}},
  "y":{"field":"r","type":"quantitative","scale":{"domain":[0,100],"nice":false},"axis":{"orient":"right","title":null,"values":[65.92,35],"format":".4~r","tickSize":6,"labelPadding":11,"labelOverlap":false}}}},
{"data":{"values":[{}]},"mark":{"type":"rule","color":"#999","strokeWidth":1,"strokeDash":[2,2],"clip":true},
 "encoding":{"x":{"datum":{"year":2018,"month":7,"date":17,"hours":20,"utc":true},"type":"temporal","scale":{"type":"utc","domain":[1523710500000,1534692780000],"nice":false},"axis":{"orient":"bottom","title":null,"values":[{"year":2018,"month":5,"date":1,"utc":true},{"year":2018,"month":6,"date":1,"utc":true},{"year":2018,"month":7,"date":1,"utc":true},{"year":2018,"month":7,"date":17,"utc":true},{"year":2018,"month":8,"date":1,"utc":true}],"labelExpr":"utcdate(datum.value) == 17 ? '04:22:53' : utcFormat(datum.value, '%b')","ticks":false,"domain":false,"labelPadding":9,"labelFlush":false,"labelOverlap":false}},
  "x2":{"datum":{"year":2018,"month":8,"date":20,"utc":true}},
  "y":{"datum":65.92,"type":"quantitative","scale":{"domain":[0,100],"nice":false},"axis":{"orient":"right","title":null,"values":[65.92,35],"format":".4~r","tickSize":6,"labelPadding":11,"labelOverlap":false}}}},
{"data":{"values":[{}]},"mark":{"type":"text","text":"RSI(14)","align":"left","baseline":"middle","dx":8,"fontSize":8.7,"color":"#333"},
 "encoding":{"x":{"datum":1523710500000,"type":"temporal","scale":{"type":"utc","domain":[1523710500000,1534692780000],"nice":false},"axis":{"orient":"bottom","title":null,"values":[{"year":2018,"month":5,"date":1,"utc":true},{"year":2018,"month":6,"date":1,"utc":true},{"year":2018,"month":7,"date":1,"utc":true},{"year":2018,"month":7,"date":17,"utc":true},{"year":2018,"month":8,"date":1,"utc":true}],"labelExpr":"utcdate(datum.value) == 17 ? '04:22:53' : utcFormat(datum.value, '%b')","ticks":false,"domain":false,"labelPadding":9,"labelFlush":false,"labelOverlap":false}},
  "y":{"datum":80.8,"type":"quantitative","scale":{"domain":[0,100],"nice":false},"axis":{"orient":"right","title":null,"values":[65.92,35],"format":".4~r","tickSize":6,"labelPadding":11,"labelOverlap":false}}}},
{"data":{"values":[{}]},"mark":{"type":"text","text":"⊠","align":"center","baseline":"middle","dx":69.5,"fontSize":12,"font":"DejaVu Sans","color":"#999"},
 "encoding":{"x":{"datum":1534692780000,"type":"temporal","scale":{"type":"utc","domain":[1523710500000,1534692780000],"nice":false},"axis":{"orient":"bottom","title":null,"values":[{"year":2018,"month":5,"date":1,"utc":true},{"year":2018,"month":6,"date":1,"utc":true},{"year":2018,"month":7,"date":1,"utc":true},{"year":2018,"month":7,"date":17,"utc":true},{"year":2018,"month":8,"date":1,"utc":true}],"labelExpr":"utcdate(datum.value) == 17 ? '04:22:53' : utcFormat(datum.value, '%b')","ticks":false,"domain":false,"labelPadding":9,"labelFlush":false,"labelOverlap":false}},
  "y":{"datum":80,"type":"quantitative","scale":{"domain":[0,100],"nice":false},"axis":{"orient":"right","title":null,"values":[65.92,35],"format":".4~r","tickSize":6,"labelPadding":11,"labelOverlap":false}}}}
]
}
]
}
